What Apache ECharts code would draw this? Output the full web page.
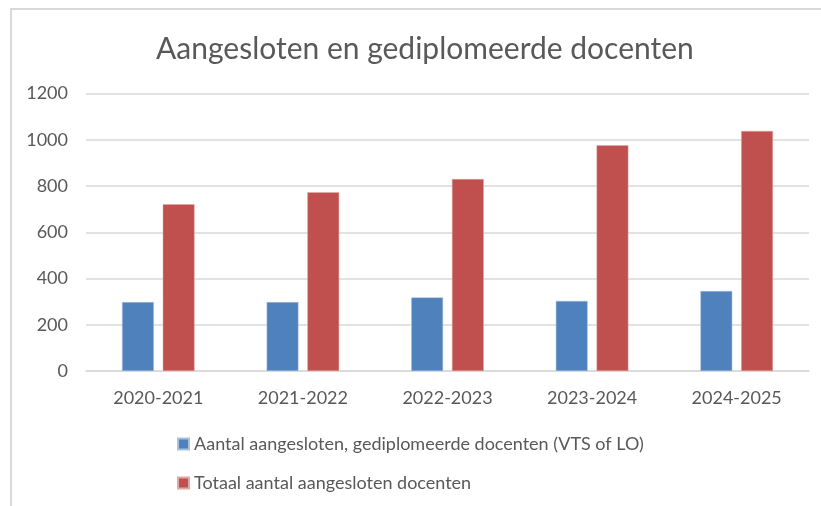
<!DOCTYPE html>
<html>
<head>
<meta charset="utf-8">
<script src="https://cdn.jsdelivr.net/npm/echarts@6/dist/echarts.min.js"></script>
<style>
  html, body { margin: 0; padding: 0; background: #fff; }
  #frame { position: absolute; left: 10px; top: 8px; right: 0; bottom: 0; border-left: 2px solid #d9d9d9; border-top: 2px solid #d9d9d9; }
  #chart { position: absolute; left: 0; top: 0; width: 821px; height: 506px; }
</style>
</head>
<body>
<div id="frame"></div>
<div id="chart"></div>
<script>
// data
const years = ['2020-2021', '2021-2022', '2022-2023', '2023-2024', '2024-2025'];
const gediplomeerd = [298, 298, 318, 303, 346];
const totaal = [721, 773, 830, 976, 1038];
const seriesNames = [
	'Aantal aangesloten, gediplomeerde docenten (VTS of LO)',
	'Totaal aantal aangesloten docenten'
];

const textColor = '#595959';
const font = 'Lato';

const myChart = echarts.init(document.getElementById('chart'));

let option = {
	animation: false,
	title: {
		text: 'Aangesloten en gediplomeerde docenten',
		left: 151,
		top: 29,
		textStyle: { fontFamily: font, fontSize: 30, fontWeight: 'normal', color: textColor }
	},
	legend: {
		orient: 'vertical',
		left: 172,
		top: 430,
		itemGap: 21,
		itemWidth: 11,
		itemHeight: 11,
		icon: 'rect',
		textStyle: { fontFamily: font, fontSize: 18, color: textColor },
		data: seriesNames
	},
	grid: { left: 86, right: 12, top: 93.5, bottom: 135, containLabel: false },
	xAxis: {
		type: 'category',
		data: years,
		axisLine: { lineStyle: { color: '#d9d9d9', width: 1.5 } },
		axisTick: { show: false },
		axisLabel: { fontFamily: font, fontSize: 18, color: textColor, margin: 18 }
	},
	yAxis: {
		type: 'value',
		min: 0,
		max: 1200,
		interval: 200,
		axisLine: { show: false },
		axisTick: { show: false },
		splitLine: { lineStyle: { color: '#d9d9d9', width: 1.5 } },
		axisLabel: { fontFamily: font, fontSize: 18, color: textColor, margin: 18, formatter: v => String(v) }
	},
	series: [
		{
			name: seriesNames[0],
			type: 'bar',
			data: gediplomeerd,
			barWidth: '22%',
			barGap: '28%',
			itemStyle: { color: '#4F81BD', borderColor: '#a9c0de', borderWidth: 0.5 }
		},
		{
			name: seriesNames[1],
			type: 'bar',
			data: totaal,
			barWidth: '22%',
			barGap: '28%',
			itemStyle: { color: '#C0504D', borderColor: '#e0a8a6', borderWidth: 0.5 }
		}
	]
};

myChart.setOption(option);
</script>
</body>
</html>
